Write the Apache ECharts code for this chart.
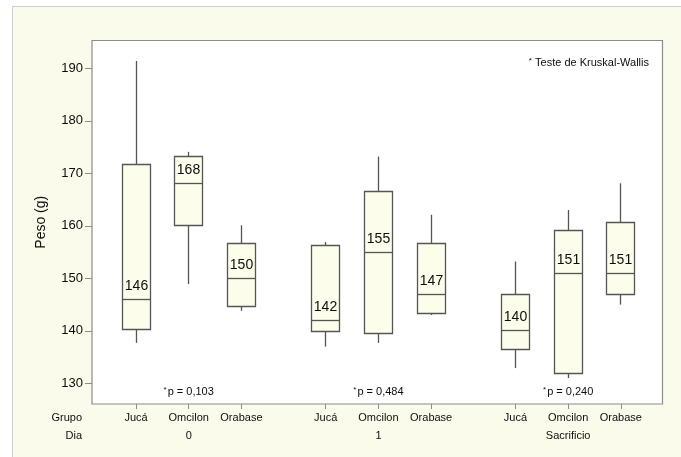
<!DOCTYPE html>
<html>
<head>
<meta charset="utf-8">
<script src="https://cdn.jsdelivr.net/npm/echarts@6/dist/echarts.min.js"></script>
<style>
  html, body { margin: 0; padding: 0; background: #fff; }
  #chart { width: 681px; height: 457px; }
</style>
</head>
<body>
<div id="chart"></div>
<script>
// Day of measurement (outer x grouping) and treatment group (inner x grouping)
const days = ['0', '1', 'Sacrificio'];
const groups = ['Jucá', 'Omcilon', 'Orabase'];

// Body weight (g) summaries, ordered day by day, group by group
const minVals    = [137.7, 148.9, 143.8, 137.0, 137.7, 143.0, 132.9, 131.0, 145.0];
const q1Vals     = [140.2, 160.1, 144.6, 139.9, 139.5, 143.3, 136.5, 131.8, 147.0];
const medianVals = [146,   168,   150,   142,   155,   147,   140,   151,   151];
const q3Vals     = [171.7, 173.2, 156.7, 156.2, 166.6, 156.7, 147.0, 159.1, 160.6];
const maxVals    = [191.4, 174.1, 160.1, 156.9, 173.2, 162.1, 153.2, 163.0, 168.1];

// Kruskal-Wallis p-values, one per day
const pValues = ['0,103', '0,484', '0,240'];

const yTicks = [130, 140, 150, 160, 170, 180, 190];

const FONT = "'Liberation Sans', Arial, sans-serif";
const TEXT = '#0d0d0d';
const FRAME = '#8c8c8c';
const BOX_LINE = '#555555';
const BOX_FILL = '#fdfdeb';
const GROUP_STEP = 3.6;   // spacing between day blocks, in box units

const slotPos = [];
const slotGroup = [];
const slotDay = [];
days.forEach((d, di) => {
  groups.forEach((g, gi) => {
    slotPos.push(di * GROUP_STEP + gi);
    slotGroup.push(gi);
    slotDay.push(di);
  });
});

function slotIndexOf(v) {
  let best = 0;
  for (let i = 1; i < slotPos.length; i++) {
    if (Math.abs(slotPos[i] - v) < Math.abs(slotPos[best] - v)) best = i;
  }
  return best;
}

const boxData = slotPos.map((p, i) => [p, minVals[i], q1Vals[i], medianVals[i], q3Vals[i], maxVals[i]]);
const pData = days.map((d, di) => [di * GROUP_STEP + 1, di]);

const crisp = v => Math.round(v - 0.5) + 0.5;

function renderBox(params, api) {
  const x = api.value(0);
  const cx = crisp(api.coord([x, 0])[0]);
  const yMin = api.coord([x, api.value(1)])[1];
  const yQ1 = crisp(api.coord([x, api.value(2)])[1]);
  const yMed = crisp(api.coord([x, api.value(3)])[1]);
  const yQ3 = crisp(api.coord([x, api.value(4)])[1]);
  const yMax = api.coord([x, api.value(5)])[1];
  const half = Math.round(api.size([0.53, 0])[0] / 2);
  const lineStyle = { stroke: BOX_LINE, lineWidth: 1.3 };
  return {
    type: 'group',
    children: [
      { type: 'line', shape: { x1: cx, y1: yQ3, x2: cx, y2: yMax }, style: lineStyle },
      { type: 'line', shape: { x1: cx, y1: yQ1, x2: cx, y2: yMin }, style: lineStyle },
      { type: 'rect', shape: { x: cx - half, y: yQ3, width: half * 2, height: yQ1 - yQ3 },
        style: { fill: BOX_FILL, stroke: BOX_LINE, lineWidth: 1.3 } },
      { type: 'line', shape: { x1: cx - half, y1: yMed, x2: cx + half, y2: yMed }, style: lineStyle },
      { type: 'text', x: cx, y: yMed - 13,
        style: { text: String(api.value(3)), fill: TEXT, font: '14px ' + FONT,
                 align: 'center', verticalAlign: 'middle' } }
    ]
  };
}

function renderP(params, api) {
  const x = api.coord([api.value(0), 0])[0];
  const cs = params.coordSys;
  const di = api.value(1);
  return {
    type: 'text',
    x: x,
    y: cs.y + cs.height - 12,
    style: {
      text: '{s|*}{t|p = ' + pValues[di] + '}',
      align: 'center',
      verticalAlign: 'middle',
      rich: {
        s: { fontSize: 8, fontFamily: FONT, fill: TEXT, verticalAlign: 'top', padding: [0, 1, 4, 0] },
        t: { fontSize: 11, fontFamily: FONT, fill: TEXT }
      }
    }
  };
}

const chart = echarts.init(document.getElementById('chart'), null, { renderer: 'canvas' });

chart.setOption({
  backgroundColor: '#ffffff',
  animation: false,
  textStyle: { fontFamily: FONT },
  grid: {
    left: 92, top: 40.5, width: 570.5, height: 363.5,
    show: true, backgroundColor: '#ffffff', borderColor: FRAME, borderWidth: 1.2,
    containLabel: false
  },
  xAxis: {
    type: 'value',
    min: -0.835,
    max: 9.99,
    axisLine: { show: false, onZero: false },
    splitLine: { show: false },
    axisTick: { show: true, customValues: slotPos, length: 5, lineStyle: { color: FRAME } },
    axisLabel: {
      customValues: slotPos,
      fontSize: 11,
      color: TEXT,
      margin: 4.5,
      lineHeight: 18,
      formatter: v => {
        const i = slotIndexOf(v);
        const name = groups[slotGroup[i]];
        return slotGroup[i] === 1 ? name + '\n' + days[slotDay[i]] : name;
      }
    }
  },
  yAxis: {
    type: 'value',
    min: 126.06,
    max: 195.3,
    axisLine: { show: false, onZero: false },
    splitLine: { show: false },
    axisTick: { show: true, customValues: yTicks, length: 7, lineStyle: { color: FRAME } },
    axisLabel: { customValues: yTicks, fontSize: 13, color: TEXT, margin: 9 },
    name: 'Peso (g)',
    nameLocation: 'middle',
    nameGap: 44,
    nameTextStyle: { fontSize: 14, color: TEXT }
  },
  graphic: [
    {
      type: 'rect', z: -10, silent: true,
      shape: { x: 12.5, y: 6.5, width: 720, height: 500 },
      style: { fill: '#fbfbec', stroke: '#cdcdcd', lineWidth: 1 }
    },
    {
      type: 'text', z: 10, x: 82, y: 417.5,
      style: { text: 'Grupo', font: '11px ' + FONT, fill: TEXT, align: 'right', verticalAlign: 'middle' }
    },
    {
      type: 'text', z: 10, x: 82, y: 435.5,
      style: { text: 'Dia', font: '11px ' + FONT, fill: TEXT, align: 'right', verticalAlign: 'middle' }
    },
    {
      type: 'text', z: 10, x: 649, y: 63,
      style: {
        text: '{s|*} {t|Teste de Kruskal-Wallis}',
        align: 'right', verticalAlign: 'middle',
        rich: {
          s: { fontSize: 8, fontFamily: FONT, fill: TEXT, verticalAlign: 'top', padding: [0, 0, 4, 0] },
          t: { fontSize: 11, fontFamily: FONT, fill: TEXT }
        }
      }
    }
  ],
  series: [
    {
      type: 'custom',
      name: 'Peso',
      renderItem: renderBox,
      encode: { x: 0, y: [1, 2, 3, 4, 5] },
      data: boxData,
      clip: false,
      z: 3
    },
    {
      type: 'custom',
      name: 'p',
      renderItem: renderP,
      encode: { x: 0 },
      data: pData,
      clip: false,
      z: 4
    }
  ]
});
</script>
</body>
</html>
